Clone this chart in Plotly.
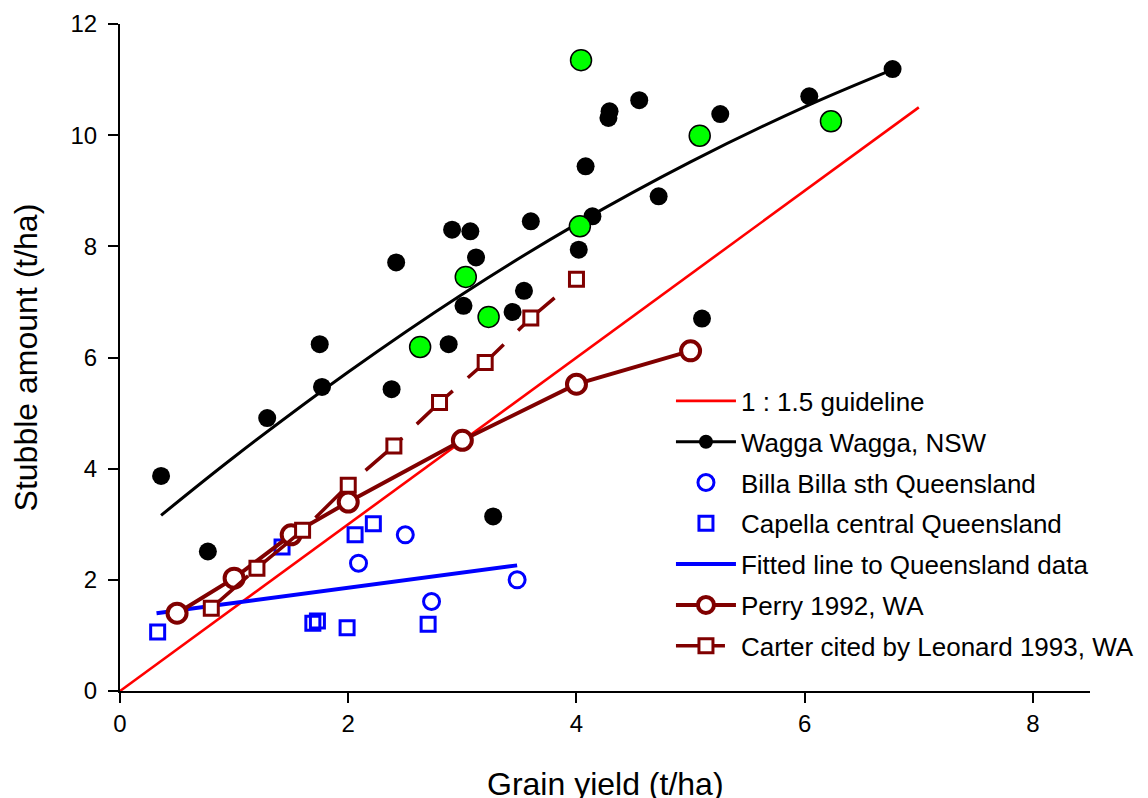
import plotly.graph_objects as go

# Guideline 1 : 1.5
guide_x = [0, 7]
guide_y = [0, 10.5]

# Wagga Wagga, NSW (black dots)
wagga_x = [0.36, 0.77, 1.29, 1.75, 1.77, 2.38, 2.42, 2.88, 2.91, 3.01, 3.07, 3.12, 3.27,
           3.44, 3.54, 3.60, 4.02, 4.08, 4.14, 4.28, 4.29, 4.55, 4.72, 5.10, 5.26, 6.04, 6.77]
wagga_y = [3.87, 2.51, 4.91, 6.24, 5.47, 5.43, 7.71, 6.24, 8.30, 6.93, 8.27, 7.80, 3.14,
           6.82, 7.20, 8.45, 7.94, 9.44, 8.54, 10.31, 10.43, 10.63, 8.90, 6.70, 10.38, 10.70, 11.19]

# Wagga Wagga, highlighted (green dots)
green_x = [2.63, 3.03, 3.23, 4.03, 4.04, 5.08, 6.23]
green_y = [6.19, 7.45, 6.73, 8.36, 11.35, 9.99, 10.25]

# Fitted curve to Wagga data
wcurve_x = [0.36, 1.0, 2.0, 3.0, 4.0, 5.0, 6.0, 6.77]
wcurve_y = [3.16, 4.21, 5.74, 7.14, 8.40, 9.52, 10.51, 11.18]

# Billa Billa sth Queensland
billa_x = [2.09, 2.50, 2.73, 3.48]
billa_y = [2.30, 2.81, 1.61, 2.00]

# Capella central Queensland
capella_x = [0.33, 1.42, 1.69, 1.73, 1.99, 2.06, 2.22, 2.70]
capella_y = [1.06, 2.59, 1.22, 1.26, 1.14, 2.81, 3.01, 1.20]

# Fitted line to Queensland data
qfit_x = [0.32, 3.48]
qfit_y = [1.40, 2.26]

# Perry 1992, WA
perry_x = [0.5, 1.0, 1.5, 2.0, 3.0, 4.0, 5.0]
perry_y = [1.40, 2.03, 2.81, 3.40, 4.51, 5.52, 6.12]

# Carter cited by Leonard 1993, WA
carter_x = [0.8, 1.2, 1.6, 2.0, 2.4, 2.8, 3.2, 3.6, 4.0]
carter_y = [1.49, 2.21, 2.89, 3.70, 4.41, 5.19, 5.91, 6.71, 7.41]

x_ticks = [0, 2, 4, 6, 8]
y_ticks = [0, 2, 4, 6, 8, 10, 12]

MAROON = "#800000"
FONT = "Arial, Liberation Sans, sans-serif"

fig = go.Figure()

fig.add_trace(go.Scatter(x=guide_x, y=guide_y, mode="lines", name="1 : 1.5 guideline",
                         legendgroup="g1",
                         line=dict(color="#ff0000", width=2.6)))
fig.add_trace(go.Scatter(x=[None], y=[None], mode="lines+markers", name="Wagga Wagga, NSW",
                         legendgroup="g2",
                         line=dict(color="black", width=3),
                         marker=dict(symbol="circle", size=14, color="black")))
fig.add_trace(go.Scatter(x=billa_x, y=billa_y, mode="markers", name="Billa Billa sth Queensland",
                         legendgroup="g3",
                         marker=dict(symbol="circle-open", size=16, color="#0000ff",
                                     line=dict(width=3, color="#0000ff"))))
fig.add_trace(go.Scatter(x=capella_x, y=capella_y, mode="markers", name="Capella central Queensland",
                         legendgroup="g4",
                         marker=dict(symbol="square-open", size=14, color="#0000ff",
                                     line=dict(width=3, color="#0000ff"))))
fig.add_trace(go.Scatter(x=qfit_x, y=qfit_y, mode="lines", name="Fitted line to Queensland data",
                         legendgroup="g5",
                         line=dict(color="#0000ff", width=4)))
fig.add_trace(go.Scatter(x=wcurve_x, y=wcurve_y, mode="lines", showlegend=False,
                         legendgroup="g2",
                         line=dict(color="black", width=3, shape="spline")))
fig.add_trace(go.Scatter(x=wagga_x, y=wagga_y, mode="markers", showlegend=False,
                         legendgroup="g2",
                         marker=dict(symbol="circle", size=18, color="black")))
fig.add_trace(go.Scatter(x=green_x, y=green_y, mode="markers", showlegend=False,
                         legendgroup="g2",
                         marker=dict(symbol="circle", size=21, color="#00ff00",
                                     line=dict(width=1.5, color="black"))))
fig.add_trace(go.Scatter(x=perry_x, y=perry_y, mode="lines+markers", name="Perry 1992, WA",
                         legendgroup="g6",
                         line=dict(color=MAROON, width=4),
                         marker=dict(symbol="circle", size=19, color="white",
                                     line=dict(width=4, color=MAROON))))
fig.add_trace(go.Scatter(x=carter_x, y=carter_y, mode="lines+markers",
                         name="Carter cited by Leonard 1993, WA",
                         legendgroup="g7",
                         line=dict(color=MAROON, width=3.5, dash="49px,20px"),
                         marker=dict(symbol="square", size=14, color="white",
                                     line=dict(width=3, color=MAROON))))

axis_common = dict(
    showgrid=False, zeroline=False, showline=True, linecolor="black", linewidth=2,
    ticks="outside", ticklen=10, tickwidth=2, tickcolor="black",
    tickfont=dict(family=FONT, size=24, color="black"),
)

# The page body adds an 8px offset, so the figure is sized/margined to compensate.
fig.update_layout(
    width=1140, height=790,
    margin=dict(l=112, r=58, t=16, b=107, autoexpand=False),
    paper_bgcolor="white", plot_bgcolor="white",
    font=dict(family=FONT, color="black"),
    xaxis=dict(range=[0, 8.5], tickvals=x_ticks, **axis_common),
    yaxis=dict(range=[0, 12], tickvals=y_ticks, ticklabelstandoff=6, **axis_common),
    showlegend=True,
    legend=dict(x=0.568, y=0.47, xanchor="left", yanchor="top",
                font=dict(family=FONT, size=26, color="black"),
                bgcolor="rgba(0,0,0,0)", itemwidth=60, traceorder="grouped",
                tracegroupgap=4),
    annotations=[
        dict(text="Grain yield (t/ha)", xref="paper", yref="paper", x=0.5, y=-0.139,
             xanchor="center", yanchor="middle", showarrow=False,
             font=dict(family=FONT, size=32, color="black")),
        dict(text="Stubble amount (t/ha)", xref="paper", yref="paper", x=-0.097, y=0.5,
             xanchor="center", yanchor="middle", showarrow=False, textangle=-90,
             font=dict(family=FONT, size=32, color="black")),
    ],
)

fig.write_html("out.html")
